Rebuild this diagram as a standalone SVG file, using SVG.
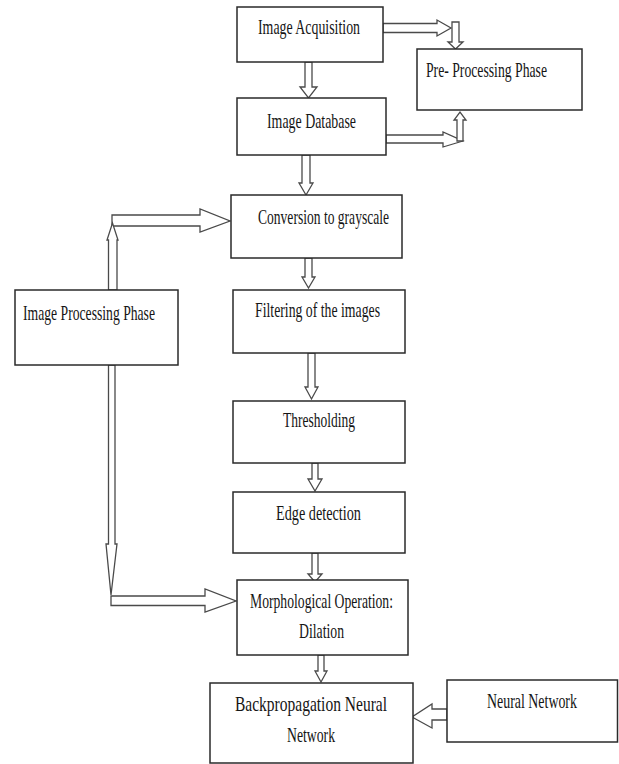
<svg xmlns="http://www.w3.org/2000/svg" width="619" height="764" viewBox="0 0 619 764">
<style>
.box{fill:#fff;stroke:#2a2a2a;stroke-width:1.5}
.arr{fill:#fff;stroke:#4a4a4a;stroke-width:1.3;stroke-linejoin:miter}
.t{font-family:"Liberation Serif","Times New Roman",serif;font-size:21px;fill:#151515}
</style>
<rect width="619" height="764" fill="#fff"/>
<g id="connectors">
<polygon class="arr" points="305,62 312,62 312,87 317,87 308.5,98 300,87 305,87"/>
<polygon class="arr" points="302,155 310,155 310,183 313,183 306,195 299,183 302,183"/>
<polygon class="arr" points="305,258 312,258 312,277 315,277 308.5,288 302,277 305,277"/>
<polygon class="arr" points="308,353 315,353 315,387 318,387 311.5,399 305,387 308,387"/>
<polygon class="arr" points="312,463 318,463 318,479 322,479 315,491 308,479 312,479"/>
<polygon class="arr" points="312,553 318,553 318,574 322,574 315,582 308,574 312,574"/>
<polygon class="arr" points="318,655 324,655 324,671 327,671 321,682 315,671 318,671"/>
<polygon class="arr" points="447,709 432,709 432,704 412,717 432,728 432,720 447,720"/>
<polygon class="arr" points="383,23.5 437,23.5 437,20 451,28 437,36 437,32.5 383,32.5"/>
<polygon class="arr" points="452,22 459,22 459,42 463,42 455.5,49 448,42 452,42"/>
<polygon class="arr" points="386,135 443,135 443,132 463,141 443,147 443,143 386,143"/>
<polygon class="arr" points="457,141 463,141 463,120 466,120 460,112 454,120 457,120"/>
<polygon class="arr" points="112,215 200,215 200,209 230,221 200,232 200,226 112,226"/>
<polygon class="arr" points="108.5,290 117,290 117,240 118,240 112.5,223 107,240 108.5,240"/>
<polygon class="arr" points="108.5,365 115,365 115,544 117,544 111,595 106,544 108.5,544"/>
<polygon class="arr" points="111,596 205,596 205,589 236,601 205,612 205,605.5 111,605.5"/>
</g>
<g id="image-acquisition"><rect class="box" x="237" y="7" width="146" height="55"/><text class="t" x="258" y="34" textLength="102" lengthAdjust="spacingAndGlyphs">Image Acquisition</text></g>
<g id="image-database"><rect class="box" x="237" y="98" width="149" height="57"/><text class="t" x="267" y="128" textLength="89" lengthAdjust="spacingAndGlyphs">Image Database</text></g>
<g id="pre-processing"><rect class="box" x="417" y="49" width="165" height="61"/><text class="t" x="426" y="77" textLength="121" lengthAdjust="spacingAndGlyphs">Pre- Processing Phase</text></g>
<g id="conversion"><rect class="box" x="231" y="195" width="171" height="63"/><text class="t" x="258" y="224" textLength="131" lengthAdjust="spacingAndGlyphs">Conversion to grayscale</text></g>
<g id="filtering"><rect class="box" x="233" y="290" width="172" height="63"/><text class="t" x="255" y="317" textLength="125" lengthAdjust="spacingAndGlyphs">Filtering of the images</text></g>
<g id="thresholding"><rect class="box" x="233" y="401" width="172" height="62"/><text class="t" x="283" y="427" textLength="72" lengthAdjust="spacingAndGlyphs">Thresholding</text></g>
<g id="edge-detection"><rect class="box" x="233" y="492" width="172" height="61"/><text class="t" x="276" y="520" textLength="85" lengthAdjust="spacingAndGlyphs">Edge detection</text></g>
<g id="morphological"><rect class="box" x="237" y="580" width="171" height="75"/><text class="t" x="250" y="608" textLength="143" lengthAdjust="spacingAndGlyphs">Morphological Operation:</text><text class="t" x="299" y="638" textLength="45" lengthAdjust="spacingAndGlyphs">Dilation</text></g>
<g id="backpropagation"><rect class="box" x="210" y="683" width="203" height="80"/><text class="t" x="235" y="711" textLength="152" lengthAdjust="spacingAndGlyphs">Backpropagation Neural</text><text class="t" x="287" y="742" textLength="48" lengthAdjust="spacingAndGlyphs">Network</text></g>
<g id="neural-network"><rect class="box" x="447" y="680" width="170.5" height="62"/><text class="t" transform="translate(487,708) scale(0.6625,1)" x="0" y="0" textLength="135.8" lengthAdjust="spacingAndGlyphs">Neural Network</text></g>
<g id="image-processing"><rect class="box" x="15" y="290" width="163" height="75"/><text class="t" x="23" y="320" textLength="132" lengthAdjust="spacingAndGlyphs">Image Processing Phase</text></g>
</svg>
